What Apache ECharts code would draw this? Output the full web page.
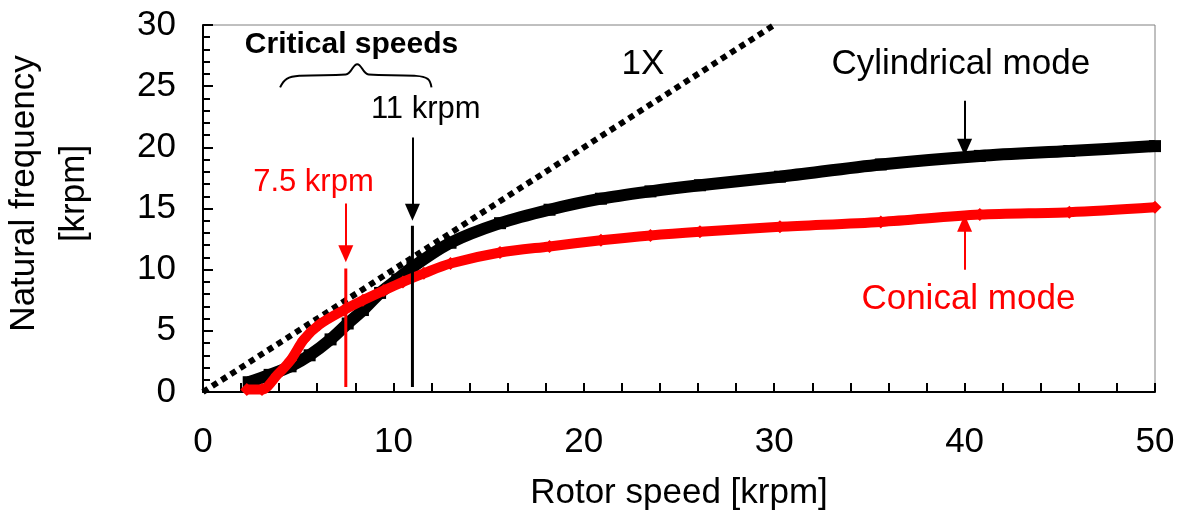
<!DOCTYPE html>
<html>
<head>
<meta charset="utf-8">
<title>Natural frequency vs rotor speed</title>
<script src="https://cdn.jsdelivr.net/npm/echarts@6/dist/echarts.min.js"></script>
<style>
  html, body { margin: 0; padding: 0; background: #fff; }
  #chart { width: 1183px; height: 525px; }
</style>
</head>
<body>
<div id="chart"></div>
<script>
// cylindrical mode (black squares)
var cylSpeed = [2.4, 3.5, 4.6, 5.6, 6.7, 7.6, 8.4, 9.3, 10.2, 11.0, 13.0, 15.6, 18.2, 20.9, 23.5, 26.1, 30.3, 35.6, 40.8, 45.5, 50.0];
var cylFreq  = [0.8, 1.4, 2.1, 3.0, 4.3, 5.6, 6.7, 8.1, 9.2, 10.2, 12.2, 13.8, 14.9, 15.8, 16.4, 16.9, 17.6, 18.6, 19.3, 19.7, 20.1];

// conical mode (red diamonds)
var conSpeed = [2.3, 3.1, 3.9, 4.6, 5.3, 6.1, 7.4, 8.4, 9.5, 10.5, 11.6, 13.0, 15.6, 18.2, 20.9, 23.5, 26.1, 30.3, 35.6, 40.8, 45.5, 50.0];
var conFreq  = [0.2, 0.2, 1.4, 2.6, 4.3, 5.5, 6.7, 7.5, 8.3, 9.0, 9.7, 10.5, 11.4, 11.9, 12.4, 12.8, 13.1, 13.5, 13.9, 14.5, 14.7, 15.1];

// 1X line
var oneX = [[0, 0], [30, 30]];

// critical speeds
var critRed = 7.5;
var critBlack = 11;

// curly brace under "Critical speeds"
var braceX = [4.05, 4.4, 5.1, 7.5, 8.1, 8.7, 11.1, 11.8, 12.0];
var braceY = [24.9, 25.6, 25.85, 25.95, 26.8, 25.95, 25.85, 25.6, 24.9];

var xTicks = { min: 0, max: 50, interval: 10 };
var yTicks = { min: 0, max: 30, interval: 5 };

function zip(a, b) {
  var out = [];
  for (var i = 0; i < a.length; i++) out.push([a[i], b[i]]);
  return out;
}

var FONT = '"Liberation Sans", Arial, sans-serif';

// text annotations in data coordinates
var notes = [
  { text: 'Critical speeds', x: 7.8, y: 28.4, color: '#000', size: 30, bold: true },
  { text: '11 krpm', x: 11.7, y: 23.1, color: '#000', size: 31 },
  { text: '1X', x: 23.1, y: 26.8, color: '#000', size: 35 },
  { text: 'Cylindrical mode', x: 39.8, y: 26.8, color: '#000', size: 35 },
  { text: '7.5 krpm', x: 5.8, y: 17.1, color: '#ff0000', size: 31 },
  { text: 'Conical mode', x: 40.2, y: 7.6, color: '#ff0000', size: 35 }
];

function arrow(x, y1, y2, color) {
  return [
    { coord: [x, y1], symbol: 'none', lineStyle: { color: color, width: 2, type: 'solid' } },
    { coord: [x, y2], symbol: 'triangle', symbolSize: [15, 17] }
  ];
}

var chart = echarts.init(document.getElementById('chart'));

var option = {
  animation: false,
  backgroundColor: '#fff',
  grid: {
    left: 203, right: 28, top: 25, bottom: 133,
    outerBoundsMode: 'none',
    containLabel: false,
    show: true, borderColor: '#808080', borderWidth: 1
  },
  xAxis: {
    type: 'value',
    min: xTicks.min, max: xTicks.max, interval: xTicks.interval,
    name: 'Rotor speed [krpm]',
    nameLocation: 'middle',
    nameGap: 84,
    nameTextStyle: { fontFamily: FONT, fontSize: 35, color: '#000' },
    axisLine: { show: true, lineStyle: { color: '#000', width: 2 } },
    axisTick: { show: true, inside: true, length: 9, lineStyle: { color: '#000', width: 2 } },
    minorTick: { show: true, splitNumber: 5, length: 9, lineStyle: { color: '#000', width: 2 } },
    axisLabel: { fontFamily: FONT, fontSize: 35, color: '#000', margin: 33 },
    splitLine: { show: false }
  },
  yAxis: {
    type: 'value',
    min: yTicks.min, max: yTicks.max, interval: yTicks.interval,
    name: 'Natural frequency\n[krpm]',
    nameLocation: 'middle',
    nameRotate: 90,
    nameGap: 104,
    nameTextStyle: { fontFamily: FONT, fontSize: 35, color: '#000', lineHeight: 50, padding: [0, 0, 0, 30] },
    axisLine: { show: true, lineStyle: { color: '#000', width: 2 } },
    axisTick: { show: true, inside: true, length: 10, lineStyle: { color: '#000', width: 2 } },
    minorTick: { show: true, splitNumber: 5, length: 7, lineStyle: { color: '#000', width: 2 } },
    axisLabel: { fontFamily: FONT, fontSize: 35, color: '#000', margin: 27 },
    splitLine: { show: false }
  },
  series: [
    {
      name: '1X',
      type: 'line',
      data: oneX,
      symbol: 'none',
      lineStyle: { color: '#000', width: 6, type: [6, 5] },
      z: 2
    },
    {
      name: 'Cylindrical mode',
      type: 'line',
      data: zip(cylSpeed, cylFreq),
      smooth: 0.3,
      symbol: 'rect',
      symbolSize: 12,
      itemStyle: { color: '#000' },
      lineStyle: { color: '#000', width: 12 },
      z: 3
    },
    {
      name: 'Conical mode',
      type: 'line',
      data: zip(conSpeed, conFreq),
      smooth: 0.3,
      symbol: 'diamond',
      symbolSize: 13,
      itemStyle: { color: '#ff0000' },
      lineStyle: { color: '#ff0000', width: 10 },
      z: 4
    },
    {
      name: 'crit red',
      type: 'line',
      data: [[critRed, 0.4], [critRed, 10.1]],
      symbol: 'none',
      lineStyle: { color: '#ff0000', width: 3 },
      z: 5,
      markLine: {
        silent: true,
        label: { show: false },
        itemStyle: { color: '#ff0000' },
        data: [arrow(critRed, 15.4, 11.3, '#ff0000'), arrow(40, 10.0, 13.8, '#ff0000')]
      }
    },
    {
      name: 'crit black',
      type: 'line',
      data: [[critBlack, 0.4], [critBlack, 13.6]],
      symbol: 'none',
      lineStyle: { color: '#000', width: 3 },
      z: 5,
      markLine: {
        silent: true,
        label: { show: false },
        itemStyle: { color: '#000' },
        data: [arrow(critBlack, 20.8, 14.7, '#000'), arrow(40, 23.8, 20.0, '#000')]
      }
    },
    {
      name: 'brace',
      type: 'line',
      data: zip(braceX, braceY),
      smooth: 0.4,
      symbol: 'none',
      lineStyle: { color: '#000', width: 2 },
      z: 5
    },
    {
      name: 'notes',
      type: 'scatter',
      symbolSize: 0,
      itemStyle: { opacity: 1 },
      z: 6,
      data: notes.map(function (n) {
        return {
          value: [n.x, n.y],
          label: {
            show: true,
            position: 'inside',
            formatter: n.text,
            fontFamily: FONT,
            fontSize: n.size,
            fontWeight: n.bold ? 'bold' : 'normal',
            color: n.color,
            textBorderWidth: 0
          }
        };
      })
    }
  ]
};

chart.setOption(option);
</script>
</body>
</html>
